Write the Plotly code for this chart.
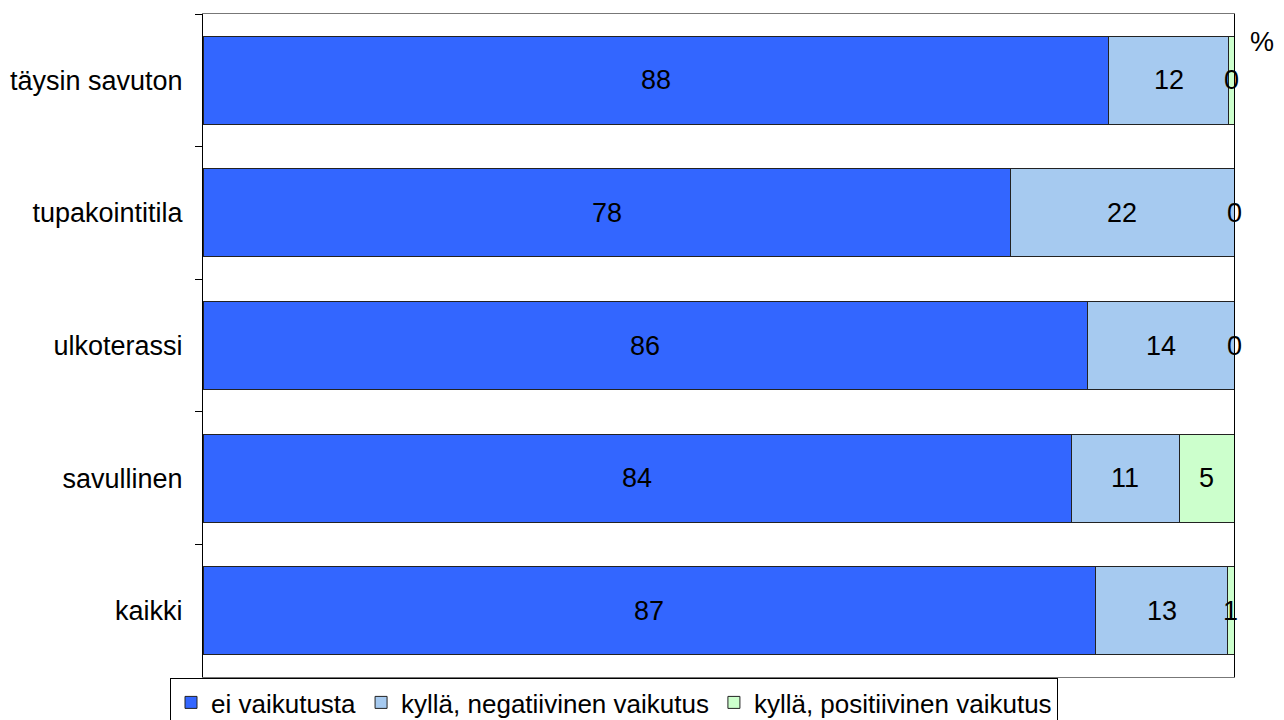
import plotly.graph_objects as go

categories = ["täysin savuton", "tupakointitila", "ulkoterassi", "savullinen", "kaikki"]
series_names = ["ei vaikutusta", "kyllä, negatiivinen vaikutus", "kyllä, positiivinen vaikutus"]

ei_vaikutusta = [87.8, 78.3, 85.8, 84.2, 86.6]
negatiivinen = [11.7, 21.7, 14.2, 10.5, 12.8]
positiivinen = [0.5, 0.0, 0.0, 5.3, 0.6]

ei_labels = ["88", "78", "86", "84", "87"]
neg_labels = ["12", "22", "14", "11", "13"]
pos_labels = ["0", "0", "0", "5", "1"]

colors = ["#3366FF", "#A6CAF0", "#CCFFCC"]
FONT = "Liberation Sans, Arial, sans-serif"
SIZE = 27

series = [ei_vaikutusta, negatiivinen, positiivinen]
labels = [ei_labels, neg_labels, pos_labels]

fig = go.Figure()
for name, vals, color in zip(series_names, series, colors):
    fig.add_trace(
        go.Bar(
            y=categories,
            x=vals,
            name=name,
            orientation="h",
            marker=dict(color=color, line=dict(color="#222222", width=1)),
            hoverinfo="skip",
        )
    )

# value labels centred on each segment
annotations = []
for i, cat in enumerate(categories):
    left = 0.0
    for vals, lbls in zip(series, labels):
        annotations.append(
            dict(
                x=left + vals[i] / 2,
                y=cat,
                xref="x",
                yref="y",
                text=lbls[i],
                showarrow=False,
                font=dict(family=FONT, size=SIZE, color="black"),
            )
        )
        left += vals[i]

# unit marker outside the top right corner
annotations.append(
    dict(
        x=1.027,
        y=0.958,
        xref="paper",
        yref="paper",
        xanchor="center",
        yanchor="middle",
        text="%",
        showarrow=False,
        font=dict(family=FONT, size=SIZE, color="black"),
    )
)

fig.update_layout(
    barmode="stack",
    bargap=0.335,
    width=1284,
    height=720,
    margin=dict(l=203, r=50, t=14, b=43, autoexpand=False),
    paper_bgcolor="white",
    plot_bgcolor="white",
    font=dict(family=FONT, size=SIZE, color="black"),
    annotations=annotations,
    showlegend=True,
    legend=dict(
        orientation="h",
        xref="container",
        yref="container",
        x=170 / 1284,
        xanchor="left",
        y=1 - 678 / 720,
        yanchor="top",
        bordercolor="black",
        borderwidth=1,
        font=dict(family=FONT, size=26, color="black"),
        itemwidth=30,
        tracegroupgap=0,
        traceorder="normal",
    ),
)
fig.update_xaxes(
    range=[0, 100],
    showticklabels=False,
    showgrid=False,
    zeroline=False,
    showline=True,
    mirror=True,
    linecolor="#777777",
    linewidth=1,
    ticks="",
)
fig.update_yaxes(
    autorange="reversed",
    automargin=False,
    showgrid=False,
    showline=True,
    mirror=True,
    linecolor="black",
    linewidth=1,
    ticks="outside",
    tickson="boundaries",
    ticklen=7,
    tickcolor="black",
    ticklabelstandoff=14,
    tickfont=dict(family=FONT, size=SIZE, color="black"),
)

# drop the page's default body margin so the figure sits at the window's corner
fig.write_html(
    "out.html",
    config={"displayModeBar": False},
    post_script="document.body.style.margin = '0';",
)
